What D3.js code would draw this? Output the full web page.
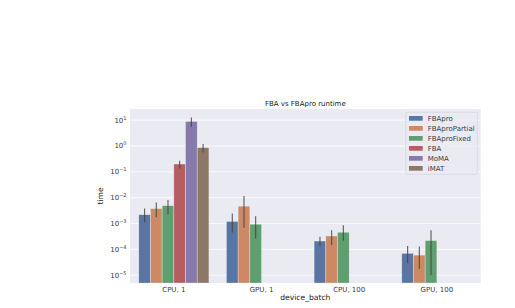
<!DOCTYPE html>
<html><head><meta charset="utf-8">
<script src="https://cdn.jsdelivr.net/npm/d3@7"></script>
<style>body{margin:0;background:#fff}svg{display:block;font-family:"DejaVu Sans",sans-serif}</style>
</head><body>
<svg id="c" width="515" height="308"></svg>
<script>
const categories = ["CPU, 1", "GPU, 1", "CPU, 100", "GPU, 100"];
const seriesNames = ["FBApro", "FBAproPartial", "FBAproFixed", "FBA", "MoMA", "iMAT"];
const colors = ["#5975a4", "#cc8963", "#5f9e6e", "#b55d60", "#857aab", "#8d7866"];
// mean values per series (null = missing) in category order
const FBApro        = [0.0022, 0.0012, 0.00021, 0.000070];
const FBAproPartial = [0.0038, 0.0047, 0.00033, 0.000060];
const FBAproFixed   = [0.0049, 0.00094, 0.00046, 0.00022];
const FBA           = [0.20, null, null, null];
const MoMA          = [8.9, null, null, null];
const iMAT          = [0.86, null, null, null];
// error bar low/high
const errLow  = [[0.0011, 0.00045, 0.000135, 0.000029],[0.00174, 0.00068, 0.000148, 0.0000174],[0.00229, 0.000257, 0.000214, 0.0000102],[0.135],[5.6],[0.56]];
const errHigh = [[0.0038, 0.00245, 0.00031, 0.000135],[0.0065, 0.0116, 0.00055, 0.000129],[0.0081, 0.0019, 0.00085, 0.00055],[0.266],[12.6],[1.2]];
const yTicks = [-5, -4, -3, -2, -1, 0, 1];
const title = "FBA vs FBApro runtime", xLabel = "device_batch", yLabel = "time";

const values = [FBApro, FBAproPartial, FBAproFixed, FBA, MoMA, iMAT];
const svg = d3.select("#c");
const L = 130, R = 480.7, T = 109, B = 283;
const x = d3.scaleBand().domain(categories).range([L, R]).paddingInner(0.2).paddingOuter(0.1);
const xs = d3.scaleBand().domain(seriesNames).range([0, x.bandwidth()]);
const y = d3.scaleLog().domain([Math.pow(10, -5.3), Math.pow(10, 1.43)]).range([B, T]);

svg.append("rect").attr("x", L).attr("y", T).attr("width", R - L).attr("height", B - T).attr("fill", "#eaeaf2");
const gy = svg.append("g");
yTicks.forEach(e => {
  const yy = y(Math.pow(10, e));
  gy.append("line").attr("x1", L).attr("x2", R).attr("y1", yy).attr("y2", yy).attr("stroke", "#fff").attr("stroke-width", 0.8);
  const t = gy.append("text").attr("x", 126.5).attr("y", yy + 2.5).attr("text-anchor", "end").attr("font-size", 7).attr("fill", "#3a3a3a");
  t.append("tspan").text("10");
  t.append("tspan").attr("dy", -3).attr("font-size", 5).text(e < 0 ? "\u2212" + (-e) : String(e));
});

values.forEach((vals, si) => {
  vals.forEach((v, ci) => {
    if (v == null) return;
    const bx = x(categories[ci]) + xs(seriesNames[si]);
    svg.append("rect").attr("x", bx).attr("width", xs.bandwidth()).attr("y", y(v)).attr("height", B - y(v))
      .attr("fill", colors[si]).attr("stroke", "#ffffff").attr("stroke-opacity", 0.5).attr("stroke-width", 0.6);
  });
});
values.forEach((vals, si) => {
  vals.forEach((v, ci) => {
    if (v == null) return;
    const cx = x(categories[ci]) + xs(seriesNames[si]) + xs.bandwidth() / 2;
    svg.append("line").attr("x1", cx).attr("x2", cx).attr("y1", y(errLow[si][ci])).attr("y2", y(errHigh[si][ci]))
      .attr("stroke", "#424242").attr("stroke-opacity", 0.85).attr("stroke-width", 1.1);
  });
});

categories.forEach(c => {
  svg.append("text").attr("x", x(c) + x.bandwidth() / 2).attr("y", 291.5).attr("text-anchor", "middle").attr("font-size", 7).attr("fill", "#3a3a3a").text(c);
});
svg.append("text").attr("x", (L + R) / 2).attr("y", 299.5).attr("text-anchor", "middle").attr("font-size", 7.6).attr("fill", "#222").text(xLabel);
svg.append("text").attr("transform", `translate(103,${(T + B) / 2}) rotate(-90)`).attr("text-anchor", "middle").attr("font-size", 7.6).attr("fill", "#222").text(yLabel);
svg.append("text").attr("x", (L + R) / 2).attr("y", 106).attr("text-anchor", "middle").attr("font-size", 7).attr("fill", "#222").text(title);

const lg = svg.append("g");
lg.append("rect").attr("x", 405.7).attr("y", 112.3).attr("width", 71.6).attr("height", 62).attr("rx", 1.5)
  .attr("fill", "#eaeaf2").attr("fill-opacity", 0.8).attr("stroke", "#d0d0d8").attr("stroke-width", 0.6);
seriesNames.forEach((n, i) => {
  const yy = 118.3 + i * 10;
  lg.append("rect").attr("x", 409).attr("y", yy - 2.3).attr("width", 13.7).attr("height", 4.7).attr("fill", colors[i]);
  lg.append("text").attr("x", 427.7).attr("y", yy + 2.5).attr("font-size", 7).attr("fill", "#3a3a3a").text(n);
});
</script>
</body></html>
